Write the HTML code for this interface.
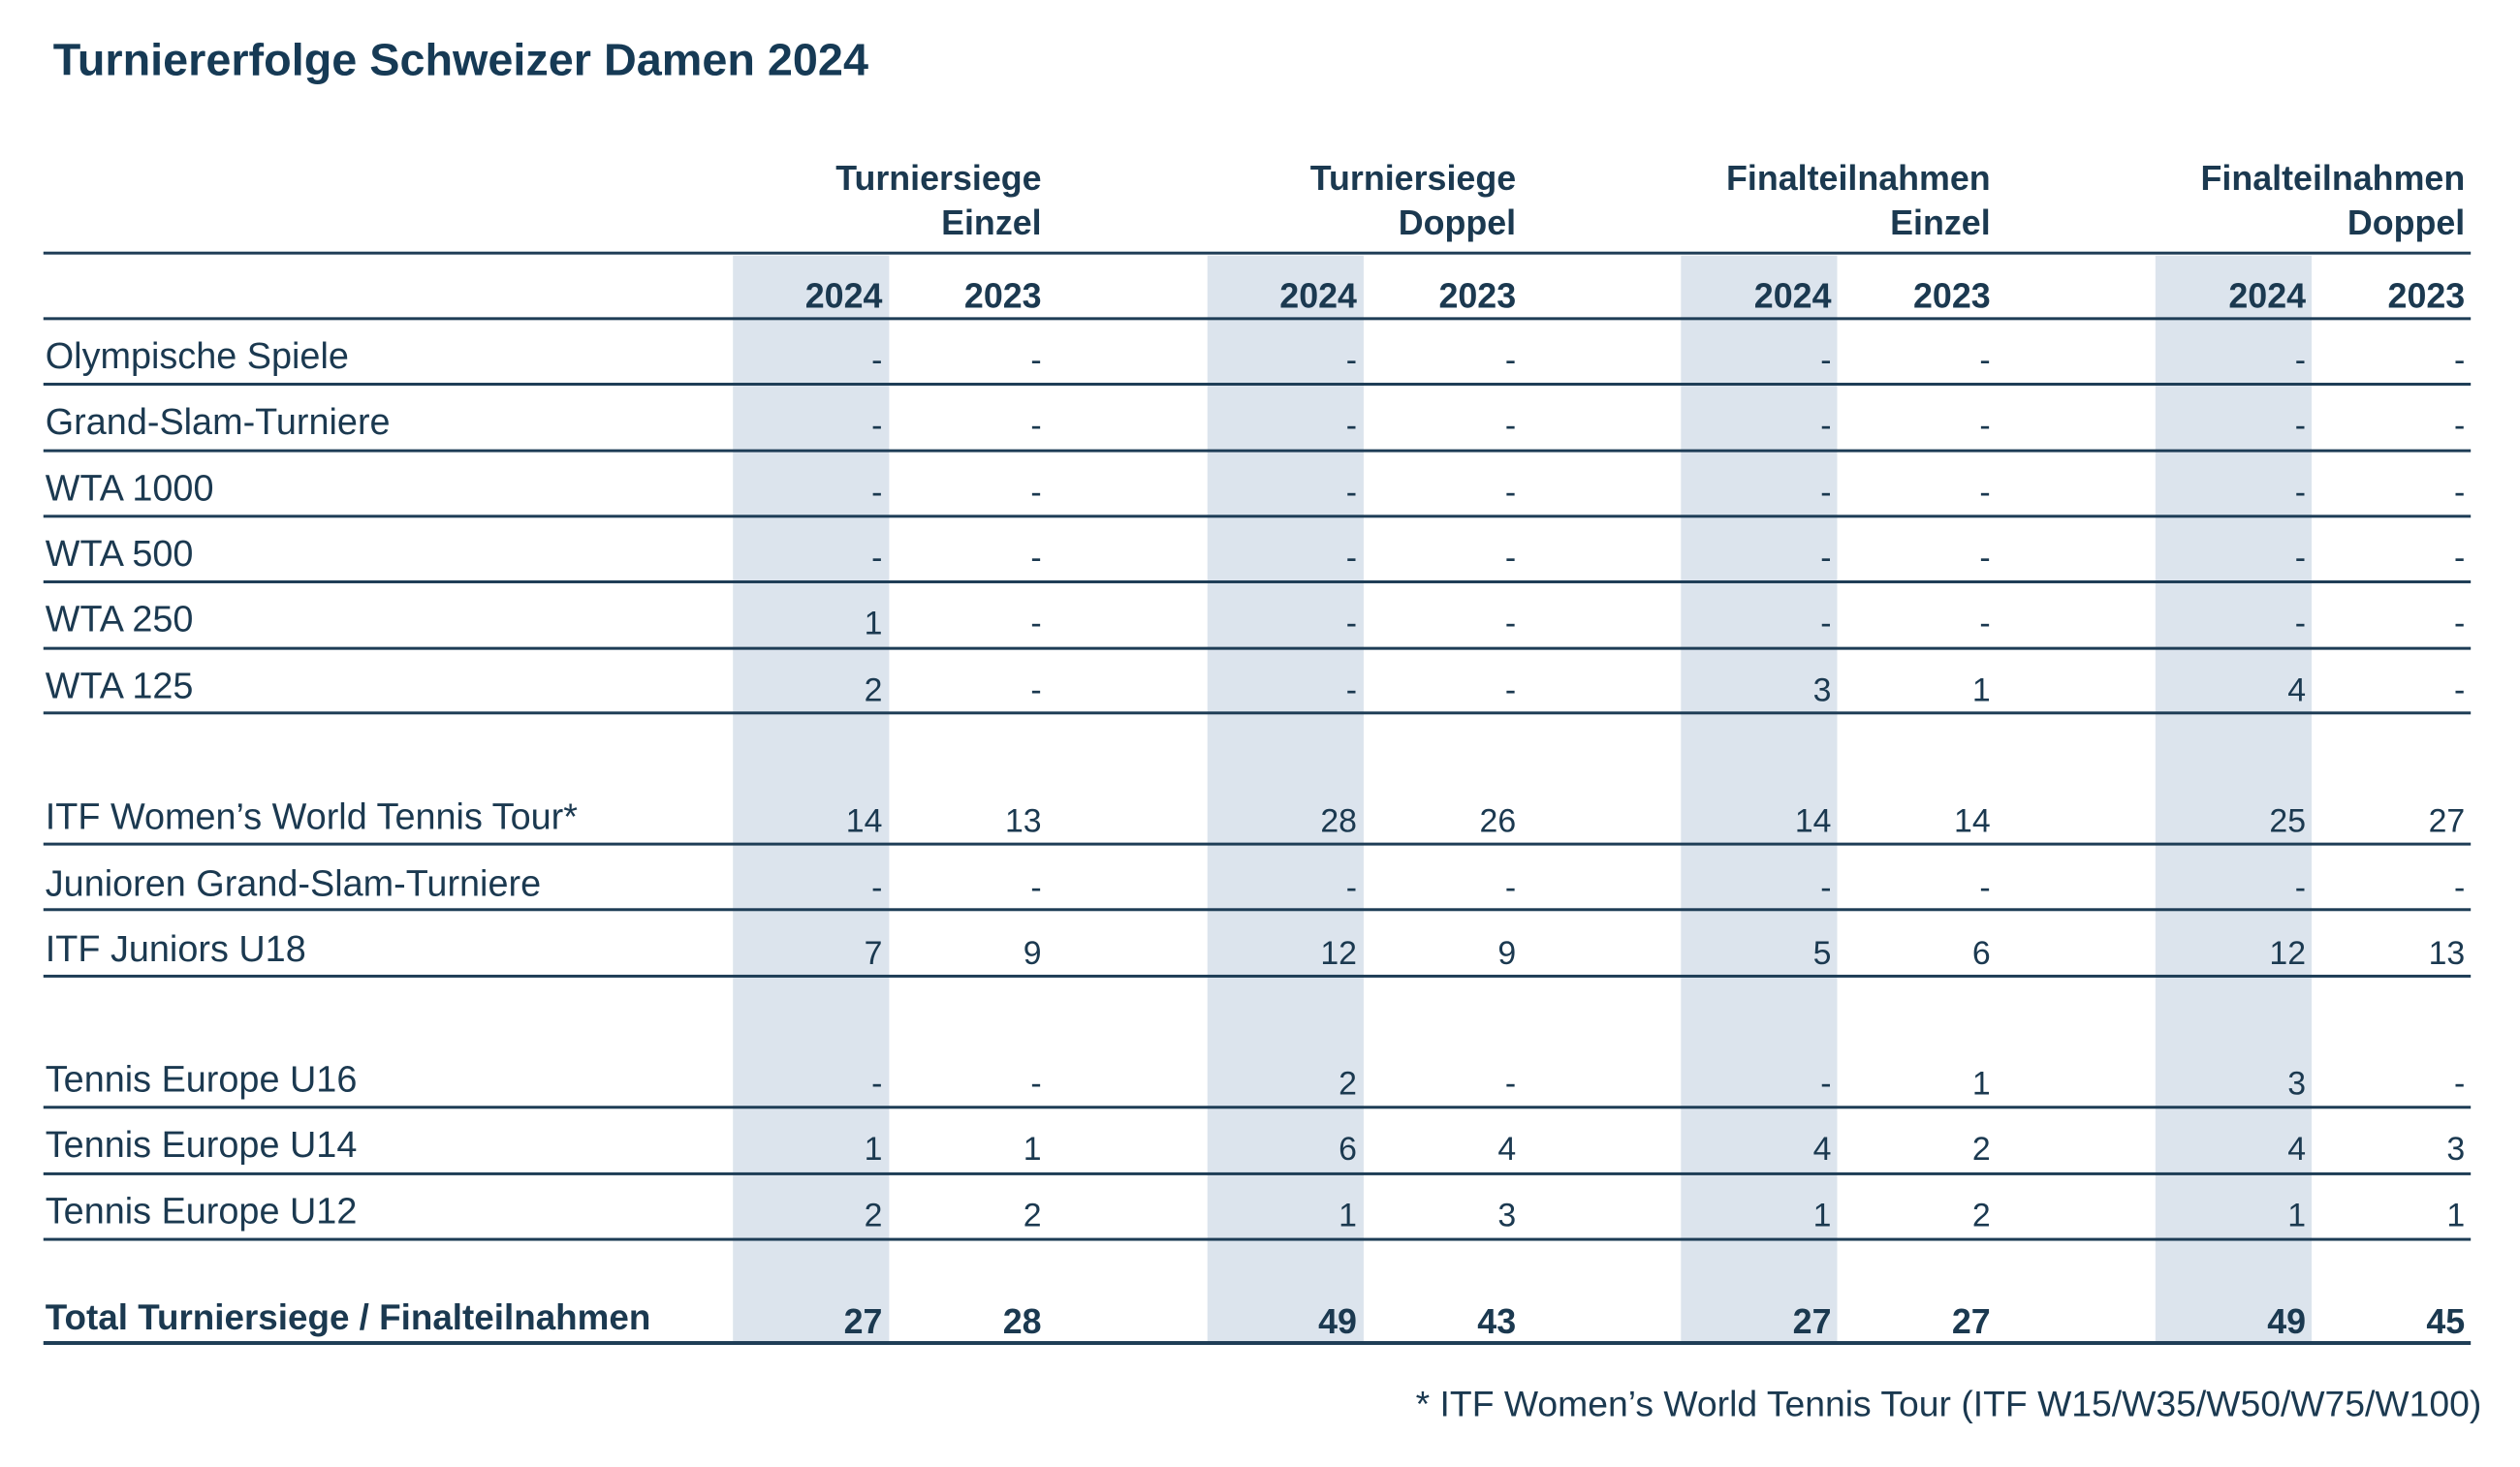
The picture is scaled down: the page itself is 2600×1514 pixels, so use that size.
<!DOCTYPE html>
<html><head><meta charset="utf-8"><style>
body{margin:0;width:2600px;height:1514px;background:#fff;position:relative;overflow:hidden;font-family:"Liberation Sans",sans-serif;color:#1b3950}
#w{position:absolute;left:0;top:0;width:2600px;height:1514px;transform:scale(0.995);transform-origin:0 0}
div{position:absolute}
.t{left:55px;top:34px;font-size:47px;font-weight:bold;color:#163a55;white-space:nowrap}
.sh{background:#dce4ed;top:265px;height:1126px;width:162px}
.ln{left:45px;width:2517px;height:3px;background:#1e3d56}
.h{font-size:36px;font-weight:bold;text-align:right;width:400px;line-height:46px}
.r{left:0;width:2600px;height:60px}
.l{left:47px;font-size:38px;line-height:60px;white-space:nowrap}
.b .l{font-size:37px}
.v{width:200px;text-align:right;font-size:34px;line-height:60px;top:4px}
.b .v{font-size:36px}
.c1{left:715px}.c2{left:880px}.c3{left:1207px}.c4{left:1372px}.c5{left:1699px}.c6{left:1864px}.c7{left:2191px}.c8{left:2356px}
.b{font-weight:bold}
.f{left:1468px;top:1435px;font-size:37.5px;white-space:nowrap}
</style></head><body><div id="w">
<div class="t">Turniererfolge Schweizer Damen 2024</div>
<div class="sh" style="left:760px"></div>
<div class="sh" style="left:1252px"></div>
<div class="sh" style="left:1743px"></div>
<div class="sh" style="left:2235px"></div>

<div class="h" style="left:680px;top:162px">Turniersiege<br>Einzel</div>
<div class="h" style="left:1172px;top:162px">Turniersiege<br>Doppel</div>
<div class="h" style="left:1664px;top:162px">Finalteilnahmen<br>Einzel</div>
<div class="h" style="left:2156px;top:162px">Finalteilnahmen<br>Doppel</div>

<div class="ln" style="top:261px"></div>
<div class="ln" style="top:329px"></div>
<div class="ln" style="top:397px"></div>
<div class="ln" style="top:466px"></div>
<div class="ln" style="top:534px"></div>
<div class="ln" style="top:602px"></div>
<div class="ln" style="top:671px"></div>
<div class="ln" style="top:738px"></div>
<div class="ln" style="top:874px"></div>
<div class="ln" style="top:942px"></div>
<div class="ln" style="top:1011px"></div>
<div class="ln" style="top:1147px"></div>
<div class="ln" style="top:1216px"></div>
<div class="ln" style="top:1284px"></div>
<div class="ln" style="top:1391px;height:4px"></div>

<div class="r b" style="top:273px"><div class="v c1">2024</div><div class="v c2">2023</div><div class="v c3">2024</div><div class="v c4">2023</div><div class="v c5">2024</div><div class="v c6">2023</div><div class="v c7">2024</div><div class="v c8">2023</div></div>

<div class="r" style="top:340px"><div class="l">Olympische Spiele</div><div class="v c1">-</div><div class="v c2">-</div><div class="v c3">-</div><div class="v c4">-</div><div class="v c5">-</div><div class="v c6">-</div><div class="v c7">-</div><div class="v c8">-</div></div>
<div class="r" style="top:408px"><div class="l">Grand-Slam-Turniere</div><div class="v c1">-</div><div class="v c2">-</div><div class="v c3">-</div><div class="v c4">-</div><div class="v c5">-</div><div class="v c6">-</div><div class="v c7">-</div><div class="v c8">-</div></div>
<div class="r" style="top:477px"><div class="l">WTA 1000</div><div class="v c1">-</div><div class="v c2">-</div><div class="v c3">-</div><div class="v c4">-</div><div class="v c5">-</div><div class="v c6">-</div><div class="v c7">-</div><div class="v c8">-</div></div>
<div class="r" style="top:545px"><div class="l">WTA 500</div><div class="v c1">-</div><div class="v c2">-</div><div class="v c3">-</div><div class="v c4">-</div><div class="v c5">-</div><div class="v c6">-</div><div class="v c7">-</div><div class="v c8">-</div></div>
<div class="r" style="top:613px"><div class="l">WTA 250</div><div class="v c1">1</div><div class="v c2">-</div><div class="v c3">-</div><div class="v c4">-</div><div class="v c5">-</div><div class="v c6">-</div><div class="v c7">-</div><div class="v c8">-</div></div>
<div class="r" style="top:682px"><div class="l">WTA 125</div><div class="v c1">2</div><div class="v c2">-</div><div class="v c3">-</div><div class="v c4">-</div><div class="v c5">3</div><div class="v c6">1</div><div class="v c7">4</div><div class="v c8">-</div></div>
<div class="r" style="top:818px"><div class="l">ITF Women’s World Tennis Tour*</div><div class="v c1">14</div><div class="v c2">13</div><div class="v c3">28</div><div class="v c4">26</div><div class="v c5">14</div><div class="v c6">14</div><div class="v c7">25</div><div class="v c8">27</div></div>
<div class="r" style="top:887px"><div class="l">Junioren Grand-Slam-Turniere</div><div class="v c1">-</div><div class="v c2">-</div><div class="v c3">-</div><div class="v c4">-</div><div class="v c5">-</div><div class="v c6">-</div><div class="v c7">-</div><div class="v c8">-</div></div>
<div class="r" style="top:955px"><div class="l">ITF Juniors U18</div><div class="v c1">7</div><div class="v c2">9</div><div class="v c3">12</div><div class="v c4">9</div><div class="v c5">5</div><div class="v c6">6</div><div class="v c7">12</div><div class="v c8">13</div></div>
<div class="r" style="top:1090px"><div class="l">Tennis Europe U16</div><div class="v c1">-</div><div class="v c2">-</div><div class="v c3">2</div><div class="v c4">-</div><div class="v c5">-</div><div class="v c6">1</div><div class="v c7">3</div><div class="v c8">-</div></div>
<div class="r" style="top:1158px"><div class="l">Tennis Europe U14</div><div class="v c1">1</div><div class="v c2">1</div><div class="v c3">6</div><div class="v c4">4</div><div class="v c5">4</div><div class="v c6">2</div><div class="v c7">4</div><div class="v c8">3</div></div>
<div class="r" style="top:1227px"><div class="l">Tennis Europe U12</div><div class="v c1">2</div><div class="v c2">2</div><div class="v c3">1</div><div class="v c4">3</div><div class="v c5">1</div><div class="v c6">2</div><div class="v c7">1</div><div class="v c8">1</div></div>
<div class="r b" style="top:1337px"><div class="l">Total Turniersiege / Finalteilnahmen</div><div class="v c1">27</div><div class="v c2">28</div><div class="v c3">49</div><div class="v c4">43</div><div class="v c5">27</div><div class="v c6">27</div><div class="v c7">49</div><div class="v c8">45</div></div>

<div class="f">* ITF Women’s World Tennis Tour (ITF W15/W35/W50/W75/W100)</div>
</div></body></html>
